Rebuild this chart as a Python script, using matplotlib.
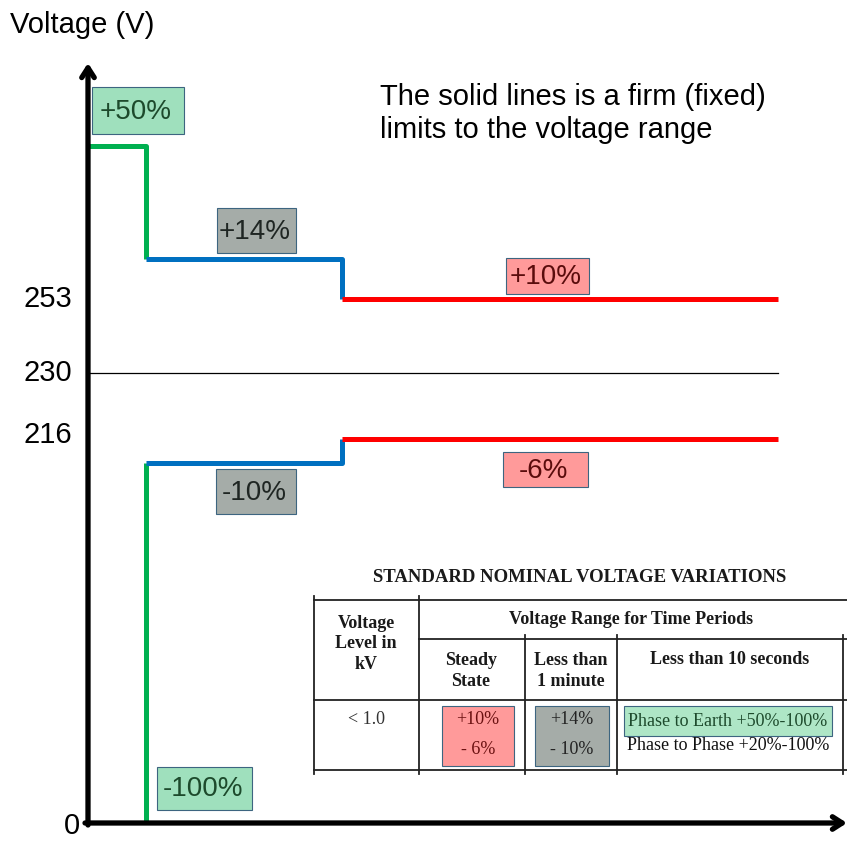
import matplotlib
matplotlib.use('Agg')
import matplotlib.pyplot as plt
from matplotlib.patches import Rectangle

# schematic layout (diagram is not to scale, units are drawing units)
stage_x = [88, 146, 342, 778]          # start, end of <10 s, end of <1 min, end of steady state
upper_level = [146, 259, 299]          # +50%, +14%, +10%
lower_level = [823, 463, 439]          # -100%, -10%, -6%
nominal_level = 373
tick_labels = ['253', '230', '216', '0']
tick_pos = [299, 373, 435, 826]

box_labels = ['+50%', '+14%', '+10%', '-10%', '-6%', '-100%']
box_kind = ['green', 'gray', 'red', 'gray', 'red', 'green']
box_rects = [(92, 87, 92, 47), (217, 208, 79, 45), (506, 258, 83, 36),
             (216, 469, 80, 45), (503, 452, 85, 35), (157, 767, 95, 43)]

fills = {'green': '#9fe0bd', 'gray': '#a5aca8', 'red': '#ff9a9a'}
text_cols = {'green': '#1d4a2c', 'gray': '#1f2623', 'red': '#5a0c0c'}
edge_col = '#3d6580'

line_green = '#00b050'
line_blue = '#0070c0'
line_red = '#ff0000'

sans = 'Liberation Sans'
serif = 'Liberation Serif'
fs = 21

fig = plt.figure(figsize=(8.47, 8.41), dpi=100)
ax = fig.add_axes([0, 0, 1, 1])
ax.set_xlim(0, 847)
ax.set_ylim(841, 0)
ax.axis('off')

lw = 3.6
# upper envelope
ax.plot([stage_x[0], stage_x[1], stage_x[1]], [upper_level[0], upper_level[0], upper_level[1]],
        color=line_green, lw=lw, solid_capstyle='butt')
ax.plot([stage_x[1], stage_x[2], stage_x[2]], [upper_level[1], upper_level[1], upper_level[2]],
        color=line_blue, lw=lw, solid_capstyle='butt')
ax.plot([stage_x[2], stage_x[3]], [upper_level[2], upper_level[2]],
        color=line_red, lw=lw, solid_capstyle='butt')
# lower envelope
ax.plot([stage_x[1], stage_x[1]], [lower_level[0], lower_level[1]],
        color=line_green, lw=lw, solid_capstyle='butt')
ax.plot([stage_x[1], stage_x[2], stage_x[2]], [lower_level[1], lower_level[1], lower_level[2]],
        color=line_blue, lw=lw, solid_capstyle='butt')
ax.plot([stage_x[2], stage_x[3]], [lower_level[2], lower_level[2]],
        color=line_red, lw=lw, solid_capstyle='butt')
# nominal
ax.plot([stage_x[0], stage_x[3]], [nominal_level, nominal_level], color='black', lw=0.9)

# axes arrows
arrow = dict(arrowstyle='->,head_length=0.7,head_width=0.45', lw=3.8, color='black',
             shrinkA=0, shrinkB=0)
ax.annotate('', xy=(88, 63), xytext=(88, 825), arrowprops=arrow)
ax.annotate('', xy=(847, 823), xytext=(85, 823), arrowprops=arrow)

ax.text(10, 25, 'Voltage (V)', fontsize=fs, family=sans, va='center', ha='left')
for lab, y in zip(tick_labels, tick_pos):
    x = 80 if lab == '0' else 72
    ax.text(x, y, lab, fontsize=fs, family=sans, va='center', ha='right')

ax.text(380, 83, 'The solid lines is a firm (fixed)\nlimits to the voltage range',
        fontsize=fs, family=sans, va='top', ha='left', linespacing=1.22)

for lab, kind, (x, y, w, h) in zip(box_labels, box_kind, box_rects):
    ax.add_patch(Rectangle((x, y), w, h, facecolor=fills[kind], edgecolor=edge_col, lw=0.8))
    ax.text(x + w / 2 - 2, y + h / 2 + 1, lab, fontsize=20, family=sans, color=text_cols[kind],
            ha='center', va='center')

# table
ax.text(580, 578, 'STANDARD NOMINAL VOLTAGE VARIATIONS', family=serif, weight='bold',
        fontsize=13.5, ha='center', va='center', color='#1a1a1a')
col_x = [314, 419, 525, 617, 843]
row_y = [600, 639, 700, 770]
tl = dict(color='#222222', lw=1.3)
ax.plot([col_x[0], 847], [row_y[0], row_y[0]], **tl)
ax.plot([col_x[1], 847], [row_y[1], row_y[1]], **tl)
ax.plot([col_x[0], 847], [row_y[2], row_y[2]], **tl)
ax.plot([col_x[0], 847], [row_y[3], row_y[3]], **tl)
ax.plot([col_x[0], col_x[0]], [row_y[0] - 4, row_y[3] + 4], **tl)
ax.plot([col_x[1], col_x[1]], [row_y[0] - 4, row_y[3] + 4], **tl)
for cx in col_x[2:]:
    ax.plot([cx, cx], [row_y[1] - 4, row_y[3] + 4], **tl)

hdr = dict(family=serif, weight='bold', fontsize=13, ha='center', va='center', color='#1a1a1a')
ax.text(366, 644, 'Voltage\nLevel in\nkV', linespacing=1.25, **hdr)
ax.text(631, 619, 'Voltage Range for Time Periods', **hdr)
ax.text(471, 671, 'Steady\nState', linespacing=1.3, **hdr)
ax.text(571, 671, 'Less than\n1 minute', linespacing=1.3, **hdr)
ax.text(730, 660, 'Less than 10 seconds', **hdr)

body = dict(family=serif, fontsize=13, ha='center', va='center')
ax.text(366, 719, '< 1.0', color='#333333', **body)
ax.add_patch(Rectangle((442, 706), 72, 60, facecolor='#ff9a9a', edgecolor=edge_col, lw=0.8))
ax.text(478, 719, '+10%', color='#6a1010', **body)
ax.text(478, 749, '- 6%', color='#6a1010', **body)
ax.add_patch(Rectangle((535, 706), 74, 60, facecolor='#a5aca8', edgecolor=edge_col, lw=0.8))
ax.text(572, 719, '+14%', color='#222222', **body)
ax.text(572, 749, '- 10%', color='#222222', **body)
ax.add_patch(Rectangle((624, 706), 208, 30, facecolor='#aee6c6', edgecolor=edge_col, lw=0.8))
ax.text(728, 721, 'Phase to Earth +50%-100%', color='#1d4a2c', **body)
ax.text(728, 745, 'Phase to Phase +20%-100%', color='#111111', **body)

fig.savefig('out.png', dpi=100)
